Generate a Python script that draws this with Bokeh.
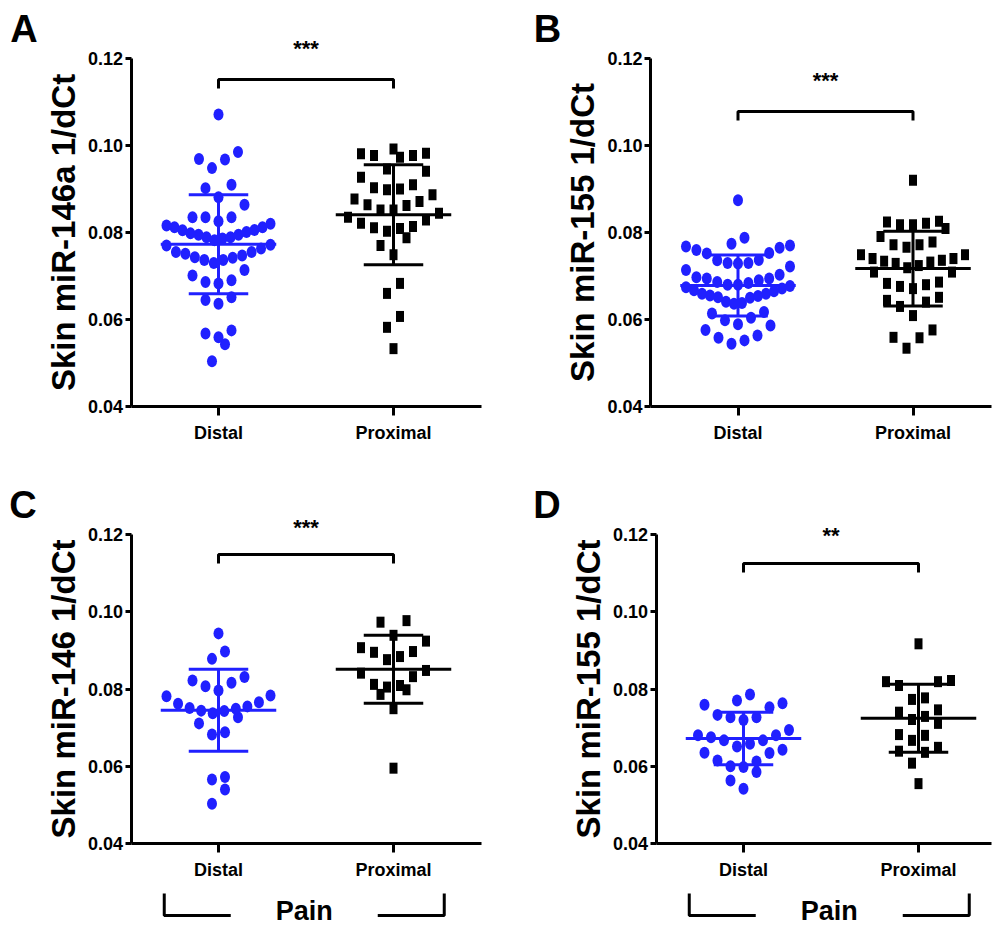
import numpy as np
from bokeh.plotting import figure
from bokeh.layouts import column, row
from bokeh.models import FixedTicker, NumeralTickFormatter, ColumnDataSource, LinearAxis
from bokeh.core.properties import value
from bokeh.embed import file_html
from bokeh.resources import INLINE

# ---------------- data ----------------
groups = ["Distal", "Proximal"]
y_ticks = [0.04, 0.06, 0.08, 0.10, 0.12]
panel_letters = ["A", "B", "C", "D"]
y_titles = ["Skin miR-146a 1/dCt", "Skin miR-155 1/dCt", "Skin miR-146 1/dCt", "Skin miR-155 1/dCt"]
stars = ["***", "***", "***", "**"]
group_label = "Pain"

a_distal = [0.1071, 0.0969, 0.0985, 0.0968, 0.0948, 0.0902, 0.0910, 0.0881, 0.0864, 0.0835, 0.0835, 0.0835,
            0.0820, 0.0812, 0.0806, 0.0801, 0.0795, 0.0789, 0.0786, 0.0782,
            0.0826, 0.0816, 0.0812, 0.0805, 0.0798, 0.0795, 0.0789,
            0.0770, 0.0755, 0.0751, 0.0743, 0.0737, 0.0730, 0.0737, 0.0742, 0.0747, 0.0755, 0.0763, 0.0772,
            0.0714, 0.0701, 0.0686, 0.0683, 0.0690,
            0.0651, 0.0636, 0.0645,
            0.0568, 0.0559, 0.0575, 0.0543, 0.0504]
a_proximal = [0.0982, 0.0977, 0.0973, 0.0992, 0.0977, 0.0981,
              0.0946, 0.0941, 0.0927, 0.0903, 0.0898, 0.0900, 0.0910, 0.0887, 0.0877, 0.0864, 0.0852, 0.0852,
              0.0862, 0.0871,
              0.0835, 0.0844, 0.0821, 0.0811, 0.0803, 0.0809, 0.0814, 0.0829, 0.0788, 0.0770, 0.0749,
              0.0683, 0.0660, 0.0607, 0.0582, 0.0533]
b_distal = [0.0874, 0.0788,
            0.0770, 0.0765, 0.0753, 0.0737, 0.0729, 0.0752, 0.0760, 0.0768, 0.0774,
            0.0730, 0.0714, 0.0697, 0.0694, 0.0703, 0.0722, 0.0730, 0.0736,
            0.0694, 0.0684, 0.0680, 0.0674, 0.0667, 0.0659, 0.0654, 0.0651, 0.0650,
            0.0655, 0.0659, 0.0665, 0.0671, 0.0677, 0.0680, 0.0686, 0.0690,
            0.0638, 0.0617, 0.0604, 0.0598, 0.0614, 0.0636, 0.0641,
            0.0589, 0.0576, 0.0558, 0.0544, 0.0552, 0.0563, 0.0586]
b_proximal = [0.0920,
              0.0824, 0.0818, 0.0818, 0.0821, 0.0826, 0.0809, 0.0791,
              0.0772, 0.0766, 0.0772, 0.0778,
              0.0749, 0.0740, 0.0736, 0.0729, 0.0724, 0.0719, 0.0732, 0.0734, 0.0740, 0.0749, 0.0709, 0.0709,
              0.0686, 0.0680, 0.0671, 0.0676, 0.0683,
              0.0644, 0.0630, 0.0640, 0.0651,
              0.0609, 0.0559, 0.0534, 0.0558, 0.0576]
c_distal = [0.0944, 0.0897, 0.0878,
            0.0831, 0.0816, 0.0796, 0.0807, 0.0822,
            0.0783, 0.0766, 0.0755, 0.0749, 0.0743, 0.0737, 0.0744, 0.0751, 0.0762, 0.0781, 0.0727,
            0.0711, 0.0682, 0.0688,
            0.0572, 0.0566, 0.0540, 0.0503]
c_proximal = [0.0977, 0.0973, 0.0939, 0.0924, 0.0907, 0.0895, 0.0897, 0.0884, 0.0876,
              0.0848, 0.0832, 0.0841, 0.0809, 0.0798, 0.0786, 0.0805, 0.0812, 0.0749, 0.0595]
d_distal = [0.0786, 0.0763, 0.0753, 0.0759, 0.0770,
            0.0727, 0.0720, 0.0727, 0.0733, 0.0694,
            0.0680, 0.0667, 0.0658, 0.0643, 0.0651, 0.0667, 0.0675, 0.0680,
            0.0635, 0.0634, 0.0615, 0.0600, 0.0598, 0.0612, 0.0585, 0.0563, 0.0542]
d_proximal = [0.0917, 0.0819, 0.0809, 0.0819, 0.0822,
              0.0777, 0.0773, 0.0746, 0.0740, 0.0721, 0.0729,
              0.0711, 0.0682, 0.0680, 0.0667, 0.0649, 0.0636, 0.0639, 0.0608, 0.0555]

# mean and SD (Distal, Proximal) per panel
means = [[0.0773, 0.0841], [0.0678, 0.0717], [0.0745, 0.0851], [0.0672, 0.0724]]
sds = [[0.0114, 0.0115], [0.0070, 0.0086], [0.0106, 0.0088], [0.0068, 0.0088]]
# significance bracket level and star level (data units)
bracket_levels = [0.1152, 0.1078, 0.1148, 0.1125]
star_levels = [0.1223, 0.1150, 0.1218, 0.1197]

# ---------------- style / layout ----------------
BLUE = "#2020ff"
BLACK = "#000000"
FONT = "Liberation Sans"
PX_X = 175.0


def swarm(vals, center, ppu_y, row_px=19.0, step_px=13.0, max_half_px=52.0):
    v = np.sort(np.asarray(vals, dtype=float))
    rows, start = [], None
    for val in v:
        if start is None or (val - start) * ppu_y > row_px:
            rows.append([val])
            start = val
        else:
            rows[-1].append(val)
    xs, ys = [], []
    for r in rows:
        n = len(r)
        step = step_px if n <= 1 else min(step_px, 2 * max_half_px / (n - 1))
        for i, val in enumerate(r):
            if n % 2 == 1:
                k = (i + 1) // 2
                off = 0 if i == 0 else (-k if i % 2 == 1 else k)
            else:
                k = i // 2 + 0.5
                off = -k if i % 2 == 0 else k
            xs.append(center + off * step / PX_X)
            ys.append(val)
    return xs, ys


def make_panel(idx, distal, proximal, ppu_y, fig_w, fig_h, ax_px, ay_px, x_axis_end, letter_dx, pain):
    x0 = 0.5 - ax_px / PX_X
    x1 = x0 + fig_w / PX_X
    y0 = 0.04 - (fig_h - ay_px) / ppu_y
    y1 = y0 + fig_h / ppu_y
    p = figure(frame_width=fig_w, frame_height=fig_h, x_range=(x0, x1), y_range=(y0, y1),
               output_backend="svg", toolbar_location=None, x_axis_type=None, y_axis_type=None,
               min_border=0)
    p.outline_line_color = None
    p.grid.visible = False

    xa = LinearAxis(fixed_location=0.04, ticker=FixedTicker(ticks=[1, 2]),
                    major_label_overrides={1: groups[0], 2: groups[1]},
                    bounds=(0.5, min(x_axis_end, x1 - 0.005)))
    ya = LinearAxis(fixed_location=0.5, ticker=FixedTicker(ticks=y_ticks),
                    formatter=NumeralTickFormatter(format="0.00"), bounds=(0.04, 0.12))
    for ax in (xa, ya):
        ax.axis_line_width = 3
        ax.axis_line_color = "black"
        ax.major_tick_line_width = 3
        ax.major_tick_line_color = "black"
        ax.minor_tick_line_color = None
        ax.major_tick_in = 0
        ax.major_label_text_font = FONT
        ax.major_label_text_font_style = "bold"
        ax.major_label_text_color = "black"
    xa.major_tick_out = 9
    ya.major_tick_out = 6
    xa.major_label_text_font_size = "18px"
    ya.major_label_text_font_size = "18px"
    xa.major_label_standoff = 7
    ya.major_label_standoff = 2
    ya.axis_label = y_titles[idx]
    ya.axis_label_text_font = FONT
    ya.axis_label_text_font_style = "bold"
    ya.axis_label_text_font_size = "33px"
    ya.axis_label_text_color = "black"
    ya.axis_label_standoff = 3
    p.add_layout(xa, "below")
    p.add_layout(ya, "left")

    # points, mean and SD
    for g, (vals, col) in enumerate(((distal, BLUE), (proximal, BLACK))):
        xs, ys = swarm(vals, g + 1, ppu_y)
        src = ColumnDataSource(dict(x=xs, y=ys))
        if g == 0:
            p.ellipse(x="x", y="y", width=10, height=12, width_units="screen", height_units="screen",
                      source=src, fill_color=col, line_color=None)
        else:
            p.rect(x="x", y="y", width=8, height=11, width_units="screen", height_units="screen",
                   source=src, fill_color=col, line_color=None)
        m, s = means[idx][g], sds[idx][g]
        c = g + 1
        p.segment(x0=[c - 0.33, c, c - 0.17, c - 0.17], x1=[c + 0.33, c, c + 0.17, c + 0.17],
                  y0=[m, m - s, m + s, m - s], y1=[m, m + s, m + s, m - s],
                  line_color=col, line_width=3)

    # significance bracket
    b = bracket_levels[idx]
    t = 9.0 / ppu_y
    p.line(x=[1, 1, 2, 2], y=[b - t, b, b, b - t], line_color="black", line_width=3)
    p.text(x=[1.5], y=[star_levels[idx]], text=[stars[idx]], text_align="center", text_baseline="middle",
           text_font=value(FONT), text_font_style="bold", text_font_size="22px", text_color="black")

    # panel letter
    p.text(x=[0.5 - letter_dx / PX_X], y=[0.12 + 30.0 / ppu_y], text=[panel_letters[idx]],
           text_align="center", text_baseline="middle", text_font=value(FONT),
           text_font_style="bold", text_font_size="38px", text_color="black")

    # group bracket under the x axis
    if pain:
        mid, outer, inner = 1.49, 0.80, 0.42
        top = 0.04 - 50.0 / ppu_y
        bot = 0.04 - 72.0 / ppu_y
        p.line(x=[mid - outer, mid - outer, mid - inner], y=[top, bot, bot], line_color="black", line_width=3)
        p.line(x=[mid + inner, mid + outer, mid + outer], y=[bot, bot, top], line_color="black", line_width=3)
        p.text(x=[mid], y=[0.04 - 67.0 / ppu_y], text=[group_label], text_align="center",
               text_baseline="middle", text_font=value(FONT), text_font_style="bold",
               text_font_size="27px", text_color="black")
    return p


ppu_top = 4350.0
ppu_bot = 3862.5
H1, H2 = 478, 452
W1, W2 = 520, 472
pA = make_panel(0, a_distal, a_proximal, ppu_top, W1, H1, 130.5, 406, 2.5, 107, False)
pB = make_panel(1, b_distal, b_proximal, ppu_top, W2, H1, 130.0, 406, 2.47, 103, False)
pC = make_panel(2, c_distal, c_proximal, ppu_bot, W1, H2, 130.5, 365, 2.5, 108, True)
pD = make_panel(3, d_distal, d_proximal, ppu_bot, W2, H2, 135.5, 365, 2.45, 109, True)

layout = column(row(pA, pB), row(pC, pD))
open("out.html", "w").write(file_html(layout, INLINE))
